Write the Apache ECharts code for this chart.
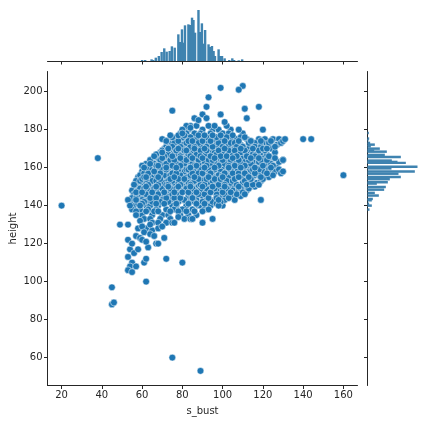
<!DOCTYPE html>
<html>
<head>
<meta charset="utf-8">
<script src="https://cdn.jsdelivr.net/npm/echarts@6/dist/echarts.min.js"></script>
<style>
  html, body { margin: 0; background: #fff; }
  #main { width: 427px; height: 424px; }
</style>
</head>
<body>
<div id="main"></div>
<script>
var xTicks = [20, 40, 60, 80, 100, 120, 140, 160];
var yTicks = [60, 80, 100, 120, 140, 160, 180, 200];

// lone points, read one by one
var outliers = [[20,140],[38,165],[45,97],[45,88],[46,89],[75,60],[89,53],[62,100],[80,110],[72,112],
  [49,130],[53,130],[53,113],[55,110],[54,108],[53,106],[55,105],[57,108],[61,110],[62,112],[54,117],[56,115],
  [58,117],[63,118],[67,120],[68,120],[71,123],[53,122],[55,120],[57,124],[59,123],[60,122],[62,121],[58,128],
  [62,128],[65,127],[68,128],[59,132],[75,190],[99,202],[110,203],[108,201],[93,197],[92,192],[90,188],[111,191],
  [118,192],[99,188],[112,186],[92,186],[86,186],[88,185],[101,184],[120,180],[108,180],[131,175],[140,175],
  [144,175],[160,156],[111,146],[119,143],[98,140],[98,143],[130,164],[130,158],[74,177],[70,175],[72,174],
  [73,170],[70,168],[76,131],[85,133],[90,131],[78,134],[95,133],[53,143],[54,140],[57,143],[59,140],[57,135],
  [61,160],[64,162],[62,155],[66,158],[82,182],[84,181],[80,180],[80,178],[60,129],[64,130],[70,129],[61,126],
  [64,125],[66,124]];

// the dense cloud, one row per height: [height, s_bust values]
var cloudRows = [
  [170, [71,76,81,83,88,93,94,99,104,106,111,113,118,124]],
  [155, [58,63,65,70,72,77,82,84,90,91,96,101,103,109,110,115,121,123]],
  [180, [83,90,95,98,104]],
  [160, [63,67,69,74,79,80,85,89,94,97,100,105,108,112,117,119,122,127]],
  [145, [59,61,66,71,73,78,83,85,90,92,99,102,104,109]],
  [165, [68,72,75,77,82,86,87,92,98,101,103,107,110,116,120,125]],
  [150, [57,60,64,69,70,75,80,81,87,88,93,97,103,106,111,114,116]],
  [175, [77,81,85,87,91,96,99,105,107,112,118,121,125,128]],
  [140, [56,62,64,68,75,77,82,88,89,94,100]],
  [158, [60,65,68,73,76,81,86,92,95,99,102,107,113,114,120,124,126]],
  [172, [74,78,80,84,89,92,97,101,103,109,115,117,122,127]],
  [148, [55,58,63,67,72,74,79,86,89,95,98,105,108,112]],
  [163, [65,70,73,78,83,84,90,91,96,102,105,111,115,118,123,128]],
  [135, [58,60,65,70,73,79,83,87]],
  [152, [61,62,68,71,76,78,83,85,91,94,99,100,104,110,113,117]],
  [178, [79,82,86,89,94,100,103,110]],
  [143, [60,63,66,70,74,80,81,87,92,96,101,106]],
  [168, [69,74,79,80,85,90,95,96,102,108,109,114,119,126]],
  [138, [55,59,63,67,72,76,80,85,91,93]],
  [156, [59,64,66,71,74,79,84,87,93,98,100,106,112,116,118,125]],
  [173, [73,76,82,86,88,93,98,104,106,113,116,120,123,129]],
  [146, [56,62,65,68,75,77,84,88,91,97,101,107]],
  [162, [62,66,71,72,77,81,85,88,94,99,101,106,109,114,121,124]],
  [176, [75,80,84,90,92,97,102,109,111]],
  [133, [61,64,69,74,81,84]],
  [153, [57,59,65,67,73,75,80,86,90,95,97,102,105,111,119]],
  [167, [67,73,76,78,83,87,91,97,100,105,112,115,117,122]],
  [142, [54,58,61,65,69,73,78,84,86,90,95,99]],
  [159, [62,64,70,72,78,82,83,89,93,96,103,104,110,115,118,123,128]],
  [171, [72,75,79,84,86,92,95,100,107,110,116,119,126]],
  [149, [59,61,66,70,74,77,82,85,92,96,100,102,109,113]],
  [164, [64,69,74,76,80,82,88,93,95,100,104,108,113,119,122,130]],
  [137, [57,62,66,68,74,78,82,86,90]],
  [157, [61,63,67,69,75,77,85,88,90,94,101,105,108,111,116,122,129]],
  [182, [84,87,93,96,102]],
  [151, [56,63,68,72,73,79,84,89,91,98,101,107,112,115,118]],
  [144, [55,57,64,67,72,76,79,85,93,97,103]],
  [174, [72,78,83,85,90,94,101,108,114,119,124,130]],
  [161, [60,67,68,75,79,86,87,92,98,103,106,111,120,125]],
  [169, [70,77,81,82,89,92,98,103,106,111,118,121]],
  [154, [60,62,69,74,78,81,88,92,96,99,106,114,120]],
  [147, [57,60,65,71,76,80,83,87,94,100,104,110]],
  [131, [65,68,72,75]],
  [166, [66,71,75,79,84,89,94,99,102,107,112,116,123]],
  [141, [58,60,67,71,77,83,87,91,97]],
  [177, [78,81,88,91,95,99,105]],
  [155, [61,68,76,86,93,100,108,113,119]],
  [160, [62,72,77,84,91,96,103,109,116,124]],
  [150, [62,67,73,78,84,90,95,101,108]],
  [165, [70,79,85,90,96,105,114,118,126]],
  [170, [73,78,86,91,101,109,115,120,122]]
];

// marginal histograms: bin centre and height
var topBinX = [60,61.5,64.7,65.5,66.8,68.3,69.7,71,72.2,73.7,74.8,76.2,78,78.8,79.8,80.5,81.3,83,83.8,84.8,85.5,86.3,88,88.8,89.7,90.7,91.3,93,93.8,94.7,95.5,96.2,98,98.8,99.7,101,103.3,104.8,105.7,108,109.7];
var topBinH = [3,3,5,3,10,15,27,38,28,30,44,40,80,57,95,55,107,110,108,130,123,85,153,87,113,52,93,50,42,45,30,15,35,15,15,8,3,8,3,2,5];
var rightBinY = [178.2,175.3,174.4,173,172.1,171.2,170,169,168.4,166.7,166.1,165.6,163.7,163,162.5,160.5,159.6,157.9,156.8,155.1,153.9,152.3,151.6,149.8,148.4,146.7,145.3,143.5,142.8,141,140,137.9];
var rightBinH = [4,5,3,8,22,10,37,20,58,52,45,100,73,90,115,150,72,142,93,100,67,61,28,55,50,22,34,16,13,5,13,6];

var cloud = [];
cloudRows.forEach(function (row) {
  row[1].forEach(function (x) { cloud.push([x, row[0]]); });
});
var points = cloud.concat(outliers);

var blue = '#1f77b4';
var barBlue = '#3f83b0';
var ink = '#262626';
var topBinW = 1.2;
var rightBinW = 1.3;

function axisBits(ticks, showLabel) {
  return {
    axisLine: { show: true, onZero: false, lineStyle: { color: ink, width: 1 } },
    axisTick: { show: true, length: 3.5, customValues: ticks, lineStyle: { color: ink, width: 1 } },
    axisLabel: { show: showLabel, customValues: ticks, color: ink, fontSize: 10, fontFamily: 'DejaVu Sans', margin: 5 },
    splitLine: { show: false }
  };
}

var option = {
  animation: false,
  backgroundColor: '#fff',
  grid: [
    { left: 47.5, top: 71.5, width: 310, height: 314, outerBoundsMode: 'none' },
    { left: 47.5, top: 8, width: 310, height: 53, outerBoundsMode: 'none' },
    { left: 367.5, top: 71.5, width: 53, height: 314, outerBoundsMode: 'none' }
  ],
  xAxis: [
    Object.assign({ gridIndex: 0, type: 'value', min: 13, max: 167, name: 's_bust', nameLocation: 'middle', nameGap: 21, nameMoveOverlap: false,
      nameTextStyle: { color: ink, fontSize: 10, fontFamily: 'DejaVu Sans' } }, axisBits(xTicks, true)),
    Object.assign({ gridIndex: 1, type: 'value', min: 13, max: 167 }, axisBits(xTicks, false)),
    { gridIndex: 2, type: 'value', min: 0, max: 159, show: false }
  ],
  yAxis: [
    Object.assign({ gridIndex: 0, type: 'value', min: 45.3, max: 210.6, name: 'height', nameLocation: 'middle', nameGap: 29, nameMoveOverlap: false,
      nameTextStyle: { color: ink, fontSize: 10, fontFamily: 'DejaVu Sans' } }, axisBits(yTicks, true)),
    { gridIndex: 1, type: 'value', min: 0, max: 159, show: false },
    Object.assign({ gridIndex: 2, type: 'value', min: 45.3, max: 210.6 }, axisBits(yTicks, false))
  ],
  series: [
    {
      type: 'scatter', xAxisIndex: 0, yAxisIndex: 0, data: points, symbolSize: 6.8, progressive: 0, large: false,
      itemStyle: { color: blue, borderColor: '#fff', borderWidth: 0.5, opacity: 1 }
    },
    {
      type: 'custom', xAxisIndex: 1, yAxisIndex: 1,
      data: topBinX.map(function (x, i) { return [x, topBinH[i]]; }),
      renderItem: function (params, api) {
        var a = api.coord([api.value(0) - topBinW / 2, 0]);
        var b = api.coord([api.value(0) + topBinW / 2, api.value(1)]);
        return { type: 'rect', shape: { x: a[0], y: b[1], width: b[0] - a[0], height: a[1] - b[1] },
          style: { fill: barBlue } };
      }
    },
    {
      type: 'custom', xAxisIndex: 2, yAxisIndex: 2,
      data: rightBinY.map(function (y, i) { return [rightBinH[i], y]; }),
      renderItem: function (params, api) {
        var a = api.coord([0, api.value(1) + rightBinW / 2]);
        var b = api.coord([api.value(0), api.value(1) - rightBinW / 2]);
        return { type: 'rect', shape: { x: a[0], y: a[1], width: b[0] - a[0], height: b[1] - a[1] },
          style: { fill: barBlue } };
      }
    }
  ]
};

var chart = echarts.init(document.getElementById('main'), null, { renderer: 'canvas' });
chart.setOption(option);
</script>
</body>
</html>
